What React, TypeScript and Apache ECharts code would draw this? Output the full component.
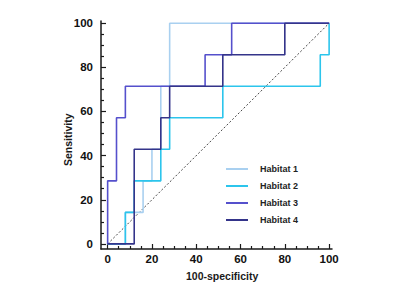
import React, { useEffect, useRef } from "react";
import * as echarts from "echarts";

// ROC curve corner points (x = 100-specificity, y = sensitivity)
const habitat1X = [0, 8, 8, 16, 16, 20, 20, 24, 24, 28, 28, 100];
const habitat1Y = [0, 0, 14.29, 14.29, 28.57, 28.57, 42.86, 42.86, 71.43, 71.43, 100, 100];

const habitat2X = [0, 8, 8, 12, 12, 24, 24, 28, 28, 52, 52, 96, 96, 100, 100];
const habitat2Y = [0, 0, 14.29, 14.29, 28.57, 28.57, 42.86, 42.86, 57.14, 57.14, 71.43, 71.43, 85.71, 85.71, 100];

const habitat3X = [0, 0, 4, 4, 8, 8, 44, 44, 56, 56, 100];
const habitat3Y = [0, 28.57, 28.57, 57.14, 57.14, 71.43, 71.43, 85.71, 85.71, 100, 100];

const habitat4X = [0, 12, 12, 24, 24, 28, 28, 52, 52, 80, 80, 100];
const habitat4Y = [0, 0, 42.86, 42.86, 57.14, 57.14, 71.43, 71.43, 85.71, 85.71, 100, 100];

const diagonalX = [0, 100];
const diagonalY = [0, 100];

const seriesNames = ["Habitat 1", "Habitat 2", "Habitat 3", "Habitat 4"];
const seriesColors = ["#a9d0f0", "#2cc5ec", "#5550cc", "#34348a"];

const majorTicks = [0, 20, 40, 60, 80, 100];
const minorTicks = [5, 10, 15, 25, 30, 35, 45, 50, 55, 65, 70, 75, 85, 90, 95];

const xTitle = "100-specificity";
const yTitle = "Sensitivity";

const FONT = "'Liberation Sans', Arial, sans-serif";

function zip(xs: number[], ys: number[]) {
  return xs.map((x, i) => [x, ys[i]]);
}

export default function App() {
  const ref = useRef<HTMLDivElement>(null);

  useEffect(() => {
    if (!ref.current) return;
    const chart = echarts.init(ref.current, undefined, { renderer: "svg" });

    const xs = [habitat1X, habitat2X, habitat3X, habitat4X];
    const ys = [habitat1Y, habitat2Y, habitat3Y, habitat4Y];

    const axisCommon = (isX: boolean, minor: boolean) => ({
      type: "value",
      min: isX ? -3 : -2.3,
      max: isX ? 101.3 : 101,
      position: isX ? "bottom" : "left",
      splitLine: { show: false },
      axisLine: {
        show: !minor,
        onZero: false,
        lineStyle: { color: "#1a1a1a", width: 1.5 },
      },
      axisTick: {
        show: true,
        inside: true,
        length: minor ? 3 : 5,
        customValues: minor ? minorTicks : majorTicks,
        lineStyle: { color: "#1a1a1a", width: 1.2 },
      },
      axisLabel: {
        show: !minor,
        customValues: majorTicks,
        margin: isX ? 4 : 8,
        color: "#111111",
        fontFamily: FONT,
        fontWeight: "bold",
        fontSize: 11.5,
      },
    });

    const option: any = {
      animation: false,
      backgroundColor: "#ffffff",
      grid: { left: 101, right: 68, top: 21, bottom: 50 },
      xAxis: [axisCommon(true, false), axisCommon(true, true)],
      yAxis: [axisCommon(false, false), axisCommon(false, true)],
      legend: {
        orient: "vertical",
        left: 226,
        top: 163,
        padding: 0,
        icon: "rect",
        itemWidth: 22,
        itemHeight: 2,
        itemGap: 5,
        data: seriesNames,
        textStyle: {
          color: "#222222",
          fontFamily: FONT,
          fontWeight: "bold",
          fontSize: 9,
          lineHeight: 12,
          padding: [0, 0, 0, 7],
        },
      },
      graphic: [
        {
          type: "text",
          left: 186,
          top: 270,
          style: {
            text: xTitle,
            fill: "#1a1a1a",
            font: `bold 10.5px ${FONT}`,
          },
        },
        {
          type: "text",
          x: 62,
          y: 166,
          rotation: Math.PI / 2,
          style: {
            text: yTitle,
            fill: "#1a1a1a",
            font: `bold 10.5px ${FONT}`,
          },
        },
      ],
      series: [
        {
          type: "line",
          name: "diagonal",
          data: zip(diagonalX, diagonalY),
          symbol: "none",
          silent: true,
          lineStyle: { color: "#333333", width: 0.9, type: [2, 2] },
          z: 1,
        },
        ...seriesNames.map((name, i) => ({
          type: "line",
          name,
          data: zip(xs[i], ys[i]),
          symbol: "none",
          color: seriesColors[i],
          itemStyle: { color: seriesColors[i] },
          lineStyle: { color: seriesColors[i], width: 1.6 },
          z: 2 + i,
        })),
      ],
    };

    chart.setOption(option);
    return () => chart.dispose();
  }, []);

  return (
    <div
      ref={ref}
      style={{ position: "fixed", left: 0, top: 0, width: 400, height: 299 }}
    />
  );
}
